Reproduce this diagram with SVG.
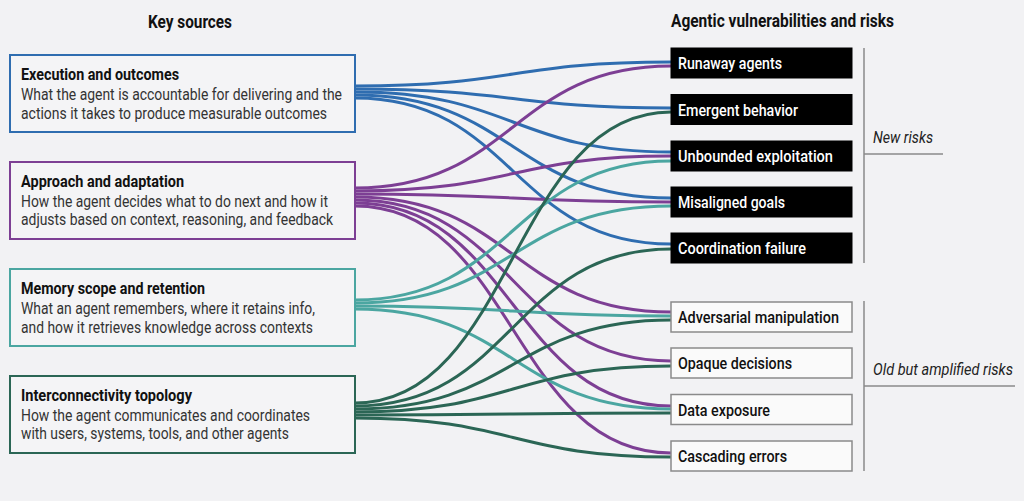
<svg xmlns="http://www.w3.org/2000/svg" width="1024" height="501" viewBox="0 0 1024 501">
<style>
.bg{fill:#f2f2f4}
.src{fill:#f4f4f6;stroke-width:2}
.ttl{font-family:"Roboto","Liberation Sans",sans-serif;font-weight:bold;font-size:16.5px;fill:#111}
.dsc{font-family:"Roboto","Liberation Sans",sans-serif;font-size:16px;fill:#333}
.hdr{font-family:"Roboto","Liberation Sans",sans-serif;font-weight:bold;font-size:18px;fill:#111}
.rk{font-family:"Roboto","Liberation Sans",sans-serif;font-weight:500;font-size:17px}
.new rect{fill:#000;stroke:#000}
.new text{fill:#fff}
.old rect{fill:#fafafa;stroke:#8a8a8a;stroke-width:1.5}
.old text{fill:#111}
.br{stroke:#8a8a8a;stroke-width:1.5;fill:none}
.lbl{font-family:"Roboto","Liberation Sans",sans-serif;font-style:italic;font-size:16px;fill:#222}
#connectors path{fill:none;stroke-width:3}
.b{stroke:#2f6db0}
.p{stroke:#7d3f94}
.t{stroke:#4ba6a1}
.g{stroke:#2b6655}
</style>
<rect class="bg" x="0" y="0" width="1024" height="501"/>
<text class="hdr" x="190" y="28" text-anchor="middle" textLength="84" lengthAdjust="spacingAndGlyphs">Key sources</text>
<text class="hdr" x="671" y="27" textLength="223" lengthAdjust="spacingAndGlyphs">Agentic vulnerabilities and risks</text>

<g id="connectors">
<path class="b" d="M355,86 C513,86 513,62 671,62"/>
<path class="b" d="M355,89 C513,89 513,108 671,108"/>
<path class="b" d="M355,92 C513,92 513,152 671,152"/>
<path class="b" d="M355,95 C513,95 513,198 671,198"/>
<path class="b" d="M355,98 C513,98 513,244 671,244"/>
<path class="p" d="M355,188 C513,188 513,66 671,66"/>
<path class="p" d="M355,191 C513,191 513,156 671,156"/>
<path class="p" d="M355,194 C513,194 513,202 671,202"/>
<path class="p" d="M355,197 C513,197 513,312 671,312"/>
<path class="p" d="M355,200 C513,200 513,361 671,361"/>
<path class="p" d="M355,203 C513,203 513,406 671,406"/>
<path class="p" d="M355,206 C513,206 513,453 671,453"/>
<path class="t" d="M355,300 C513,300 513,161 671,161"/>
<path class="t" d="M355,303 C513,303 513,206 671,206"/>
<path class="t" d="M355,306 C513,306 513,316 671,316"/>
<path class="t" d="M355,309 C513,309 513,409 671,409"/>
<path class="g" d="M355,403 C513,403 513,112 671,112"/>
<path class="g" d="M355,406 C513,406 513,249 671,249"/>
<path class="g" d="M355,409 C513,409 513,320 671,320"/>
<path class="g" d="M355,412 C513,412 513,366 671,366"/>
<path class="g" d="M355,415 C513,415 513,413 671,413"/>
<path class="g" d="M355,418 C513,418 513,457 671,457"/>
</g>

<g id="src-execution">
<rect class="src" x="10" y="55" width="345" height="77" stroke="#2f6db0"/>
<text class="ttl" x="21" y="80" textLength="158" lengthAdjust="spacingAndGlyphs">Execution and outcomes</text>
<text class="dsc" x="21" y="100" textLength="321" lengthAdjust="spacingAndGlyphs">What the agent is accountable for delivering and the</text>
<text class="dsc" x="21" y="118.5" textLength="306" lengthAdjust="spacingAndGlyphs">actions it takes to produce measurable outcomes</text>
</g>
<g id="src-approach">
<rect class="src" x="10" y="162" width="345" height="77" stroke="#7d3f94"/>
<text class="ttl" x="21" y="187" textLength="163" lengthAdjust="spacingAndGlyphs">Approach and adaptation</text>
<text class="dsc" x="21" y="206.5" textLength="307" lengthAdjust="spacingAndGlyphs">How the agent decides what to do next and how it</text>
<text class="dsc" x="21" y="225" textLength="312" lengthAdjust="spacingAndGlyphs">adjusts based on context, reasoning, and feedback</text>
</g>
<g id="src-memory">
<rect class="src" x="10" y="269" width="345" height="77" stroke="#4ba6a1"/>
<text class="ttl" x="21" y="294" textLength="184" lengthAdjust="spacingAndGlyphs">Memory scope and retention</text>
<text class="dsc" x="21" y="314" textLength="294" lengthAdjust="spacingAndGlyphs">What an agent remembers, where it retains info,</text>
<text class="dsc" x="21" y="332.5" textLength="292" lengthAdjust="spacingAndGlyphs">and how it retrieves knowledge across contexts</text>
</g>
<g id="src-interconnectivity">
<rect class="src" x="10" y="376" width="345" height="77" stroke="#2b6655"/>
<text class="ttl" x="21" y="401" textLength="171" lengthAdjust="spacingAndGlyphs">Interconnectivity topology</text>
<text class="dsc" x="21" y="420.5" textLength="289" lengthAdjust="spacingAndGlyphs">How the agent communicates and coordinates</text>
<text class="dsc" x="21" y="439" textLength="268" lengthAdjust="spacingAndGlyphs">with users, systems, tools, and other agents</text>
</g>

<g id="risk-runaway" class="new">
<rect x="671" y="48" width="181" height="30"/>
<text class="rk" x="678" y="69" textLength="104" lengthAdjust="spacingAndGlyphs">Runaway agents</text>
</g>
<g id="risk-emergent" class="new">
<rect x="671" y="94.5" width="181" height="30"/>
<text class="rk" x="678" y="115.5" textLength="120" lengthAdjust="spacingAndGlyphs">Emergent behavior</text>
</g>
<g id="risk-unbounded" class="new">
<rect x="671" y="141" width="181" height="30"/>
<text class="rk" x="678" y="162" textLength="155" lengthAdjust="spacingAndGlyphs">Unbounded exploitation</text>
</g>
<g id="risk-misaligned" class="new">
<rect x="671" y="187" width="181" height="30"/>
<text class="rk" x="678" y="208" textLength="107" lengthAdjust="spacingAndGlyphs">Misaligned goals</text>
</g>
<g id="risk-coordination" class="new">
<rect x="671" y="233" width="181" height="30"/>
<text class="rk" x="678" y="254" textLength="128" lengthAdjust="spacingAndGlyphs">Coordination failure</text>
</g>
<g id="risk-adversarial" class="old">
<rect x="671" y="302" width="181" height="30"/>
<text class="rk" x="678" y="323" textLength="161" lengthAdjust="spacingAndGlyphs">Adversarial manipulation</text>
</g>
<g id="risk-opaque" class="old">
<rect x="671" y="348" width="181" height="30"/>
<text class="rk" x="678" y="369" textLength="114" lengthAdjust="spacingAndGlyphs">Opaque decisions</text>
</g>
<g id="risk-data" class="old">
<rect x="671" y="394.5" width="181" height="30"/>
<text class="rk" x="678" y="415.5" textLength="92" lengthAdjust="spacingAndGlyphs">Data exposure</text>
</g>
<g id="risk-cascading" class="old">
<rect x="671" y="441" width="181" height="30"/>
<text class="rk" x="678" y="462" textLength="109" lengthAdjust="spacingAndGlyphs">Cascading errors</text>
</g>

<g id="group-new">
<path class="br" d="M864,48 V263 M864,154 H943"/>
<text class="lbl" x="873" y="143" textLength="60" lengthAdjust="spacingAndGlyphs">New risks</text>
</g>
<g id="group-old">
<path class="br" d="M864,301 V471 M864,386 H1015"/>
<text class="lbl" x="873" y="375" textLength="140" lengthAdjust="spacingAndGlyphs">Old but amplified risks</text>
</g>
</svg>
